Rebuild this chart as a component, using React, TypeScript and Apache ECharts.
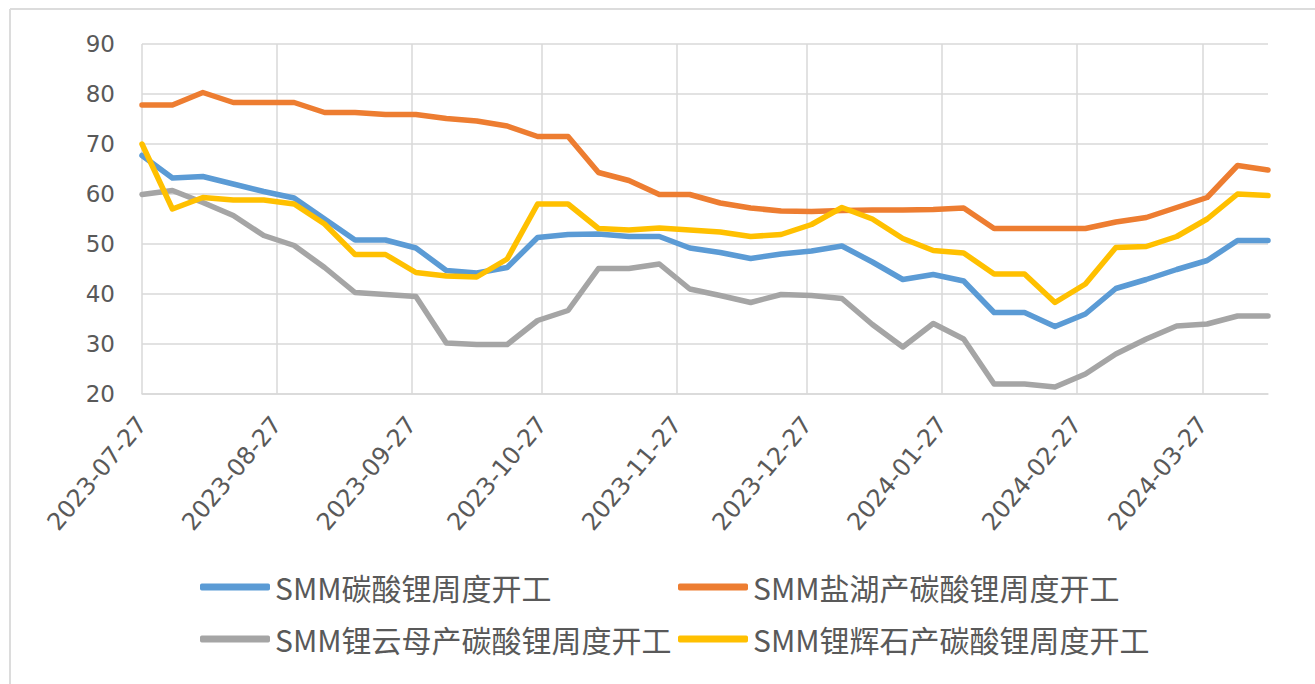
import React, { useEffect, useRef } from 'react';
import * as echarts from 'echarts';

// Weekly observation dates (Thursdays)
const weekDates = [
  '2023-07-27', '2023-08-03', '2023-08-10', '2023-08-17', '2023-08-24', '2023-08-31',
  '2023-09-07', '2023-09-14', '2023-09-21', '2023-09-28', '2023-10-05', '2023-10-12',
  '2023-10-19', '2023-10-26', '2023-11-02', '2023-11-09', '2023-11-16', '2023-11-23',
  '2023-11-30', '2023-12-07', '2023-12-14', '2023-12-21', '2023-12-28', '2024-01-04',
  '2024-01-11', '2024-01-18', '2024-01-25', '2024-02-01', '2024-02-08', '2024-02-15',
  '2024-02-22', '2024-02-29', '2024-03-07', '2024-03-14', '2024-03-21', '2024-03-28',
  '2024-04-04', '2024-04-11',
];

const seriesNames = [
  'SMM碳酸锂周度开工',
  'SMM盐湖产碳酸锂周度开工',
  'SMM锂云母产碳酸锂周度开工',
  'SMM锂辉石产碳酸锂周度开工',
];

const totalRate = [
  67.7, 63.2, 63.5, 62.0, 60.5, 59.2, 55.0, 50.8, 50.8, 49.2, 44.7, 44.2, 45.3,
  51.3, 51.9, 52.0, 51.5, 51.5, 49.2, 48.3, 47.1, 48.0, 48.6, 49.6, 46.4, 42.9,
  43.9, 42.6, 36.3, 36.3, 33.5, 36.0, 41.1, 42.9, 44.9, 46.7, 50.7, 50.7,
];

const saltLakeRate = [
  77.8, 77.8, 80.3, 78.3, 78.3, 78.3, 76.3, 76.3, 75.9, 75.9, 75.1, 74.6, 73.6,
  71.5, 71.5, 64.3, 62.7, 59.9, 59.9, 58.2, 57.2, 56.6, 56.5, 56.7, 56.8, 56.8,
  56.9, 57.2, 53.1, 53.1, 53.1, 53.1, 54.4, 55.3, 57.3, 59.3, 65.7, 64.8,
];

const lepidoliteRate = [
  59.9, 60.7, 58.3, 55.7, 51.7, 49.7, 45.3, 40.3, 39.9, 39.5, 30.2, 29.9, 29.9,
  34.7, 36.7, 45.1, 45.1, 46.0, 41.0, 39.7, 38.3, 39.9, 39.7, 39.1, 33.9, 29.4,
  34.1, 31.0, 22.0, 22.0, 21.4, 24.0, 28.0, 31.0, 33.6, 34.0, 35.6, 35.6,
];

const spodumeneRate = [
  70.0, 57.0, 59.3, 58.8, 58.8, 58.0, 54.0, 47.9, 47.9, 44.3, 43.6, 43.4, 47.0,
  58.0, 58.0, 53.1, 52.8, 53.2, 52.8, 52.4, 51.5, 51.9, 53.9, 57.3, 55.0, 51.1,
  48.7, 48.2, 44.0, 44.0, 38.3, 42.0, 49.3, 49.5, 51.5, 55.0, 60.0, 59.7,
];

const seriesValues = [totalRate, saltLakeRate, lepidoliteRate, spodumeneRate];
const seriesColors = ['#5B9BD5', '#ED7D31', '#A5A5A5', '#FFC000'];

const yMin = 20;
const yMax = 90;
const yStep = 10;
const labelDay = '27';

function pad(n: number) {
  return n < 10 ? '0' + n : '' + n;
}

function dailyCategories(first: string, last: string): string[] {
  const out: string[] = [];
  const [y0, m0, d0] = first.split('-').map(Number);
  const [y1, m1, d1] = last.split('-').map(Number);
  let t = Date.UTC(y0, m0 - 1, d0);
  const end = Date.UTC(y1, m1 - 1, d1);
  while (t <= end) {
    const dt = new Date(t);
    out.push(`${dt.getUTCFullYear()}-${pad(dt.getUTCMonth() + 1)}-${pad(dt.getUTCDate())}`);
    t += 86400000;
  }
  return out;
}

export default function App() {
  const ref = useRef<HTMLDivElement>(null);

  useEffect(() => {
    if (!ref.current) return;
    const chart = echarts.init(ref.current, undefined, { renderer: 'svg' });
    const days = dailyCategories(weekDates[0], weekDates[weekDates.length - 1]);
    const isLabelDay = (_i: number, v: string) => String(v).slice(8) === labelDay;
    const gridColor = '#d9d9d9';
    const textColor = '#595959';

    const legendPos = [
      { left: 200, top: 572 },
      { left: 678, top: 572 },
      { left: 200, top: 624 },
      { left: 678, top: 624 },
    ];

    chart.setOption({
      animation: false,
      backgroundColor: '#ffffff',
      grid: { left: 142, right: 47, top: 44, bottom: 290, containLabel: false },
      xAxis: {
        type: 'category',
        data: days,
        boundaryGap: false,
        axisLine: { show: true, lineStyle: { color: gridColor, width: 1.5 } },
        axisTick: { show: false },
        axisLabel: {
          interval: isLabelDay,
          rotate: 50,
          margin: 26,
          fontSize: 24,
          color: textColor,
          fontFamily: 'DejaVu Sans',
        },
        splitLine: { show: true, interval: isLabelDay, lineStyle: { color: gridColor, width: 1.5 } },
      },
      yAxis: {
        type: 'value',
        min: yMin,
        max: yMax,
        interval: yStep,
        axisLine: { show: false },
        axisTick: { show: false },
        axisLabel: { margin: 27, fontSize: 23, color: textColor, fontFamily: 'DejaVu Sans' },
        splitLine: { show: true, lineStyle: { color: gridColor, width: 1.5 } },
      },
      legend: seriesNames.map((name, i) => ({
        data: [name],
        left: legendPos[i].left,
        top: legendPos[i].top,
        orient: 'horizontal',
        padding: 0,
        icon: 'roundRect',
        itemWidth: 70,
        itemHeight: 7,
        selectedMode: false,
        textStyle: {
          fontSize: 30,
          lineHeight: 30,
          color: textColor,
          fontFamily: 'Noto Sans CJK SC',
        },
      })),
      graphic: [
        { type: 'line', shape: { x1: 10, y1: 9, x2: 1315, y2: 9 }, style: { stroke: '#dcdcdc', lineWidth: 2 } },
        { type: 'line', shape: { x1: 10, y1: 9, x2: 10, y2: 684 }, style: { stroke: '#dcdcdc', lineWidth: 2 } },
      ],
      series: seriesNames.map((name, i) => ({
        name,
        type: 'line',
        showSymbol: false,
        symbol: 'none',
        color: seriesColors[i],
        lineStyle: { width: 5.5, color: seriesColors[i], cap: 'round', join: 'round' },
        data: weekDates.map((d, j) => [d, seriesValues[i][j]]),
      })),
    });

    return () => chart.dispose();
  }, []);

  return (
    <div
      ref={ref}
      style={{ position: 'fixed', left: 0, top: 0, width: 1315, height: 684, background: '#fff' }}
    />
  );
}
